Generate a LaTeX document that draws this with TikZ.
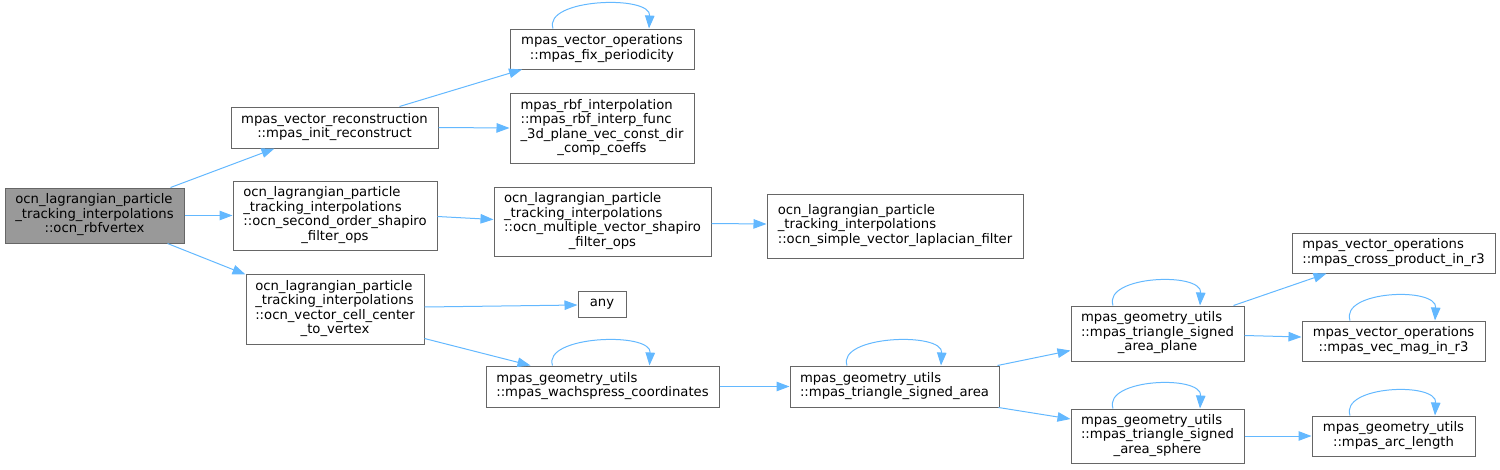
\documentclass[tikz,border=0pt]{standalone}
\usepackage{fontspec}
\setmainfont{DejaVu Sans}
\usetikzlibrary{arrows.meta,calc}
\definecolor{edgec}{HTML}{63B8FF}
\definecolor{boxc}{HTML}{666666}
\definecolor{mainc}{HTML}{999999}
\newcommand{\dxl}[2]{\begin{tabular}{@{}l@{}}#1\\\multicolumn{1}{@{}c@{}}{#2}\end{tabular}}
\newcommand{\selfloop}[3]{\draw[edge] ($(#1.north)+(#2,0)$) .. controls ($(#1.north)+(#2-10,-30)$) and ($(#1.north)+(#3+2,-34)$) .. ($(#1.north)+(#3,0)$);}
\begin{document}
\begin{tikzpicture}[x=1pt,y=-1pt,
  box/.style={draw=boxc,fill=white,line width=1pt,inner sep=0pt,font=\fontsize{13.2}{14.5}\selectfont},
  edge/.style={draw=edgec,line width=1pt,-{Triangle[length=13pt,width=9.5pt]}}]
\useasboundingbox (0,0) rectangle (1500,469);
\node[box,fill=mainc,minimum width=179,minimum height=55] (A) at (94.5,215.5) {\dxl{ocn\_lagrangian\_particle\\\_tracking\_interpolations}{::ocn\_rbfvertex}};
\node[box,minimum width=207,minimum height=41] (B) at (334.5,127.5) {\dxl{mpas\_vector\_reconstruction}{::mpas\_init\_reconstruct}};
\node[box,minimum width=184,minimum height=40] (C) at (602,49) {\dxl{mpas\_vector\_operations}{::mpas\_fix\_periodicity}};
\node[box,minimum width=184,minimum height=70] (D) at (602,128) {\dxl{mpas\_rbf\_interpolation\\::mpas\_rbf\_interp\_func\\\_3d\_plane\_vec\_const\_dir}{\_comp\_coeffs}};
\node[box,minimum width=204,minimum height=69] (E) at (335,215.5) {\dxl{ocn\_lagrangian\_particle\\\_tracking\_interpolations\\::ocn\_second\_order\_shapiro}{\_filter\_ops}};
\node[box,minimum width=217,minimum height=69] (F) at (602.5,221.5) {\dxl{ocn\_lagrangian\_particle\\\_tracking\_interpolations\\::ocn\_multiple\_vector\_shapiro}{\_filter\_ops}};
\node[box,minimum width=178,minimum height=70] (G) at (335,309) {\dxl{ocn\_lagrangian\_particle\\\_tracking\_interpolations\\::ocn\_vector\_cell\_center}{\_to\_vertex}};
\node[box,minimum width=48,minimum height=26] (H) at (602,304) {any};
\node[box,minimum width=256,minimum height=64] (I) at (895,226) {\dxl{ocn\_lagrangian\_particle\\\_tracking\_interpolations}{::ocn\_simple\_vector\_laplacian\_filter}};
\node[box,minimum width=233,minimum height=41] (J) at (602.5,386.5) {\dxl{mpas\_geometry\_utils}{::mpas\_wachspress\_coordinates}};
\node[box,minimum width=209,minimum height=41] (K) at (894.5,386.5) {\dxl{mpas\_geometry\_utils}{::mpas\_triangle\_signed\_area}};
\node[box,minimum width=173,minimum height=55] (L) at (1157.5,333.5) {\dxl{mpas\_geometry\_utils\\::mpas\_triangle\_signed}{\_area\_plane}};
\node[box,minimum width=203,minimum height=40] (M) at (1393.5,253) {\dxl{mpas\_vector\_operations}{::mpas\_cross\_product\_in\_r3}};
\node[box,minimum width=183,minimum height=40] (N) at (1393.5,341) {\dxl{mpas\_vector\_operations}{::mpas\_vec\_mag\_in\_r3}};
\node[box,minimum width=173,minimum height=54] (O) at (1157.5,436) {\dxl{mpas\_geometry\_utils\\::mpas\_triangle\_signed}{\_area\_sphere}};
\node[box,minimum width=163,minimum height=40] (P) at (1393.5,436) {\dxl{mpas\_geometry\_utils}{::mpas\_arc\_length}};
% edges
\draw[edge] ($(A.north east)+(-14,0)$) -- ($(B.south)+(-60,0)$);
\draw[edge] (A.east) -- (E.west);
\draw[edge] ($(A.south east)+(-17,0)$) -- ($(G.north west)+(0,1)$);
\draw[edge] ($(B.north)+(65,0)$) -- ($(C.south)+(-80,0)$);
\draw[edge] (B.east) -- (D.west);
\draw[edge] ($(E.east)+(0,1)$) -- ($(F.west)+(0,-2)$);
\draw[edge] ($(F.east)+(0,2)$) -- ($(I.west)+(0,-2)$);
\draw[edge] ($(G.east)+(0,-2)$) -- ($(H.west)+(0,1)$);
\draw[edge] ($(G.south east)+(0,-6)$) -- ($(J.north)+(-72,0)$);
\draw[edge] (J.east) -- (K.west);
\draw[edge] ($(K.north east)+(-2,0)$) -- ($(L.west)+(0,17)$);
\draw[edge] ($(K.south east)+(-1,0)$) -- ($(O.west)+(0,-17)$);
\draw[edge] ($(L.north)+(76,0)$) -- ($(M.south)+(-67,0)$);
\draw[edge] ($(L.east)+(0,2)$) -- ($(N.west)+(0,-4)$);
\draw[edge] (O.east) -- (P.west);
% self loops
\selfloop{C}{-49}{47}
\selfloop{J}{-50}{47}
\selfloop{K}{-47.5}{46.5}
\selfloop{L}{-44.5}{42.5}
\selfloop{N}{-43.5}{41.5}
\selfloop{O}{-44.5}{42.5}
\selfloop{P}{-43.5}{41.5}
\end{tikzpicture}
\end{document}
